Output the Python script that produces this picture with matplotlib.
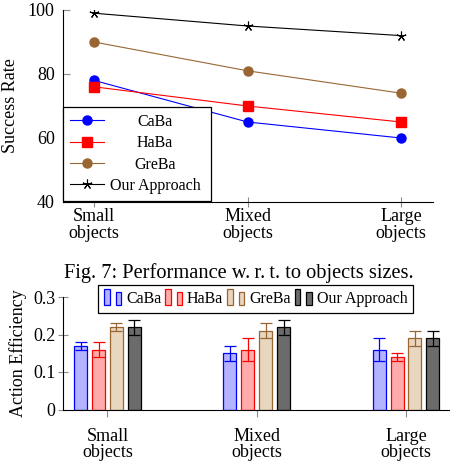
import numpy as np
import matplotlib
matplotlib.use('Agg')
import matplotlib.pyplot as plt
from matplotlib.patches import Rectangle
from matplotlib.legend_handler import HandlerBase

plt.rcParams['font.family'] = ['Liberation Serif', 'DejaVu Serif']
plt.rcParams['font.size'] = 13

# data
categories = ['Small\nobjects', 'Mixed\nobjects', 'Large\nobjects']
methods = ['CaBa', 'HaBa', 'GreBa', 'Our Approach']

success_caba = [78, 65, 60]
success_haba = [76, 70, 65]
success_greba = [90, 81, 74]
success_ours = [99, 95, 92]

eff_caba = [0.17, 0.15, 0.16]
eff_haba = [0.16, 0.16, 0.14]
eff_greba = [0.22, 0.21, 0.19]
eff_ours = [0.22, 0.22, 0.19]

err_caba = [0.01, 0.02, 0.03]
err_haba = [0.02, 0.03, 0.01]
err_greba = [0.01, 0.02, 0.02]
err_ours = [0.02, 0.02, 0.02]

W, H = 450, 466
fig = plt.figure(figsize=(4.5, 4.66), dpi=100)

brown = (0.6, 0.4, 0.2)
tick_gray = '0.55'
leg_fs = 11.5

# ---- top chart: success rate ----
ax1 = fig.add_axes([63 / W, 1 - 202 / H, 370 / W, 192 / H])
x = np.arange(len(categories))
ax1.plot(x, success_caba, color='blue', lw=0.8, marker='o', ms=6.5, label='CaBa')
ax1.plot(x, success_haba, color='red', lw=0.8, marker='s', ms=6.5, label='HaBa')
ax1.plot(x, success_greba, color=brown, lw=0.8, marker='o', ms=6.5, label='GreBa')
ax1.plot(x, success_ours, color='black', lw=0.8, marker=(5, 2, 0), ms=7, mew=0.8,
         label='Our Approach')
ax1.set_xlim(-0.202, 2.208)
ax1.set_ylim(40, 100)
ax1.set_yticks([40, 60, 80, 100])
ax1.set_xticks(x)
ax1.set_xticklabels(categories, linespacing=0.95)
ax1.set_ylabel('Success Rate', labelpad=6)
for s in ['top', 'right']:
    ax1.spines[s].set_visible(False)
ax1.tick_params(axis='x', direction='inout', length=7, color=tick_gray, width=0.8, pad=1)
ax1.tick_params(axis='y', direction='in', length=5, color=tick_gray, width=0.8, pad=6)
leg1 = ax1.legend(loc='lower left', bbox_to_anchor=(63 / W, 1 - 201 / H, 148 / W, 0),
                  bbox_transform=fig.transFigure, mode='expand', borderaxespad=0,
                  fancybox=False, edgecolor='black', framealpha=1, handlelength=2.1,
                  labelspacing=0.33, borderpad=0.45, handletextpad=0.5,
                  fontsize=leg_fs)
leg1.get_frame().set_linewidth(0.9)

fig.text(239 / W, 1 - 273 / H, 'Fig. 7: Performance w.\u2009r.\u2009t. to objects sizes.',
         ha='center', va='center', fontsize=14.7)

# ---- bottom chart: action efficiency ----
ax2 = fig.add_axes([63 / W, 1 - 409.5 / H, 387 / W, 112.5 / H])
vals = [eff_caba, eff_haba, eff_greba, eff_ours]
errs = [err_caba, err_haba, err_greba, err_ours]
edges = ['blue', 'red', brown, 'black']
faces = [(0.7, 0.7, 1.0), (1.0, 0.67, 0.67), (0.91, 0.84, 0.75), (0.42, 0.42, 0.42)]
offsets = [-0.18, -0.06, 0.06, 0.18]
bw = 0.087
bar_handles = []
for v, e, ec, fc, off, name in zip(vals, errs, edges, faces, offsets, methods):
    bars = ax2.bar(x + off, v, bw, color=fc, edgecolor=ec, linewidth=0.9, label=name)
    bar_handles.append(bars.patches[0])
    ax2.errorbar(x + off, v, yerr=e, fmt='none', ecolor=ec, elinewidth=0.9,
                 capsize=4, capthick=0.9)
ax2.set_xlim(-0.298, 2.295)
ax2.set_ylim(0, 0.3)
ax2.set_yticks([0, 0.1, 0.2, 0.3])
ax2.set_yticklabels(['0', '0.1', '0.2', '0.3'])
ax2.set_xticks(x)
ax2.set_xticklabels(categories, linespacing=0.95)
ax2.set_ylabel('Action Efficiency', labelpad=4)
for s in ['top', 'right']:
    ax2.spines[s].set_visible(False)
ax2.tick_params(axis='y', direction='inout', length=7, color=tick_gray, width=0.8, pad=2)
ax2.tick_params(axis='x', direction='out', length=5, color=tick_gray, width=0.8, pad=8)


class TwoBarHandler(HandlerBase):
    def create_artists(self, legend, orig, xd, yd, width, height, fontsize, trans):
        fc = orig.get_facecolor()
        ec = orig.get_edgecolor()
        bw_ = width * 0.33
        r1 = Rectangle((xd, yd - height * 0.15), bw_, height * 1.45,
                       facecolor=fc, edgecolor=ec, lw=0.9, transform=trans)
        r2 = Rectangle((xd + width * 0.67, yd - height * 0.15), bw_, height * 1.18,
                       facecolor=fc, edgecolor=ec, lw=0.9, transform=trans)
        return [r1, r2]


leg2 = ax2.legend(bar_handles, methods, ncol=4, loc='upper left',
                  bbox_to_anchor=(98 / W, 1 - 285 / H),
                  bbox_transform=fig.transFigure, borderaxespad=0,
                  fancybox=False, edgecolor='black', framealpha=1,
                  handler_map={Rectangle: TwoBarHandler()}, fontsize=leg_fs,
                  handlelength=1.07, handletextpad=0.3, columnspacing=0.25,
                  borderpad=0.38)
leg2.get_frame().set_linewidth(0.9)

# pgfplots centres the legend entries: hide the packed labels, re-place them centred
fig.canvas.draw()
for t, name in zip(leg1.get_texts(), methods):
    bb = t.get_window_extent()
    t.set_visible(False)
    fig.text(155 / W, (bb.y0 + bb.y1) / 2 / fig.bbox.height, name,
             ha='center', va='center', fontsize=leg_fs)

fig.savefig('out.png', dpi=100)
